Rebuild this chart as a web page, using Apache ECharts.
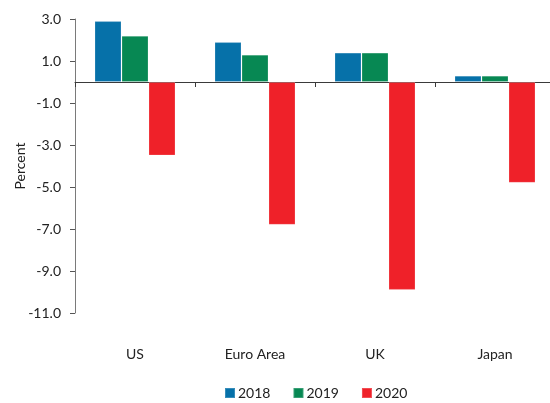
<!DOCTYPE html>
<html>
<head>
<meta charset="utf-8">
<script src="https://cdn.jsdelivr.net/npm/echarts@6/dist/echarts.min.js"></script>
<style>
  html, body { margin: 0; padding: 0; background: #fff; }
  #chart { width: 550px; height: 403px; }
</style>
</head>
<body>
<div id="chart"></div>
<script>
// Real GDP growth by economy, percent
const regions = ['US', 'Euro Area', 'UK', 'Japan'];
const years = ['2018', '2019', '2020'];
const growth2018 = [2.9, 1.9, 1.4, 0.3];
const growth2019 = [2.2, 1.3, 1.4, 0.3];
const growth2020 = [-3.5, -6.8, -9.9, -4.8];
const yTicks = [3, 1, -1, -3, -5, -7, -9, -11];
const colors = ['#0671a9', '#078853', '#ef2129'];

const FONT = 'Lato';
const chart = echarts.init(document.getElementById('chart'), null, { renderer: 'canvas' });

const seriesValues = [growth2018, growth2019, growth2020];

chart.setOption({
  animation: false,
  color: colors,
  textStyle: { fontFamily: FONT },
  grid: { left: 75, right: -5, top: 19, bottom: 90, containLabel: false, outerBoundsMode: 'none' },
  legend: {
    data: years,
    left: 219,
    top: 381,
    itemWidth: 10,
    itemHeight: 10,
    itemGap: 22,
    icon: 'rect',
    textStyle: { fontFamily: FONT, fontSize: 14, color: '#222', padding: [0, 0, 0, -2] }
  },
  xAxis: [
    {
      type: 'category',
      data: regions,
      axisLine: { onZero: true, lineStyle: { color: '#3a3a3a', width: 1 } },
      axisTick: { show: true, length: 5, lineStyle: { color: '#3a3a3a' } },
      axisLabel: { show: false },
      splitLine: { show: false }
    },
    {
      type: 'category',
      data: regions,
      position: 'bottom',
      axisLine: { show: false },
      axisTick: { show: false },
      axisLabel: { margin: 34, fontFamily: FONT, fontSize: 14, color: '#222' }
    }
  ],
  yAxis: {
    type: 'value',
    min: -11,
    max: 3,
    name: 'Percent',
    nameLocation: 'middle',
    nameGap: 48,
    nameMoveOverlap: false,
    nameRotate: 90,
    nameTextStyle: { fontFamily: FONT, fontSize: 14, color: '#222' },
    axisLine: { show: true, lineStyle: { color: '#7a7a7a', width: 1 } },
    axisTick: { show: true, length: 5, inside: false, customValues: yTicks, lineStyle: { color: '#555' } },
    axisLabel: {
      customValues: yTicks,
      margin: 14,
      fontFamily: FONT,
      fontSize: 14,
      color: '#222',
      formatter: v => v.toFixed(1)
    },
    splitLine: { show: false }
  },
  series: years.map((y, i) => ({
    name: y,
    type: 'bar',
    xAxisIndex: 0,
    data: seriesValues[i],
    barGap: '0%',
    barCategoryGap: '32.5%',
    itemStyle: { color: colors[i], borderColor: 'rgba(255,255,255,0.2)', borderWidth: 1 }
  }))
});
</script>
</body>
</html>
